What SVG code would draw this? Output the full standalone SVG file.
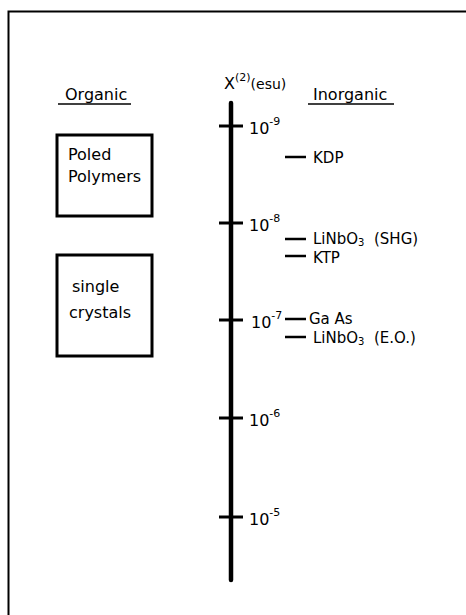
<svg xmlns="http://www.w3.org/2000/svg" width="466" height="615" viewBox="0 0 466 615">
<style>
text{font-family:"DejaVu Sans","Liberation Sans",sans-serif;font-size:16px;fill:#000}
.sup{font-size:11px}
.mat{font-size:15px}
.sub{font-size:10px}
.box{fill:none;stroke:#000;stroke-width:3}
.ul{stroke:#000;stroke-width:1.6}
.tick{stroke:#000;stroke-width:3}
.dash{stroke:#000;stroke-width:2.5}
</style>
<rect width="466" height="615" fill="#fff"/>
<g id="frame"><path d="M8.5 615V11.5H466" fill="none" stroke="#000" stroke-width="2"/></g>
<g id="headings">
<text x="65" y="100">Organic</text>
<line class="ul" x1="58" y1="104" x2="131" y2="104"/>
<text x="224" y="89" font-size="17">X<tspan class="sup" dy="-8">(2)</tspan><tspan dy="8" font-size="14">(esu)</tspan></text>
<text x="313" y="100">Inorganic</text>
<line class="ul" x1="308" y1="104" x2="394" y2="104"/>
</g>
<g id="poled-polymers">
<rect class="box" x="57" y="135" width="95" height="81"/>
<text x="68" y="160">Poled</text>
<text x="68" y="182">Polymers</text>
</g>
<g id="single-crystals">
<rect class="box" x="57" y="255" width="95" height="101"/>
<text x="72" y="292">single</text>
<text x="69" y="318">crystals</text>
</g>
<g id="axis">
<line x1="231" y1="103" x2="231" y2="580" stroke="#000" stroke-width="4.5" stroke-linecap="round"/>
<line class="tick" x1="219" y1="126" x2="243" y2="126"/>
<line class="tick" x1="219" y1="223" x2="243" y2="223"/>
<line class="tick" x1="219" y1="320" x2="243" y2="320"/>
<line class="tick" x1="219" y1="418" x2="243" y2="418"/>
<line class="tick" x1="219" y1="517" x2="243" y2="517"/>
<text x="249" y="134">10<tspan class="sup" dy="-9">-9</tspan></text>
<text x="249" y="231">10<tspan class="sup" dy="-9">-8</tspan></text>
<text x="251" y="328">10<tspan class="sup" dy="-9">-7</tspan></text>
<text x="249" y="426">10<tspan class="sup" dy="-9">-6</tspan></text>
<text x="249" y="525">10<tspan class="sup" dy="-9">-5</tspan></text>
</g>
<g id="materials">
<line class="dash" x1="285" y1="157" x2="306" y2="157"/>
<text class="mat" x="313" y="163" font-size="16">KDP</text>
<line class="dash" x1="285" y1="239" x2="306" y2="239"/>
<text class="mat" x="313" y="244">LiNbO<tspan class="sub" dy="2">3</tspan><tspan dy="-2" xml:space="preserve">  (SHG)</tspan></text>
<line class="dash" x1="285" y1="256" x2="306" y2="256"/>
<text class="mat" x="313" y="263">KTP</text>
<line class="dash" x1="285" y1="319" x2="306" y2="319"/>
<text class="mat" x="309" y="324">Ga As</text>
<line class="dash" x1="285" y1="337" x2="306" y2="337"/>
<text class="mat" x="313" y="343">LiNbO<tspan class="sub" dy="2">3</tspan><tspan dy="-2" xml:space="preserve">  (E.O.)</tspan></text>
</g>
</svg>
